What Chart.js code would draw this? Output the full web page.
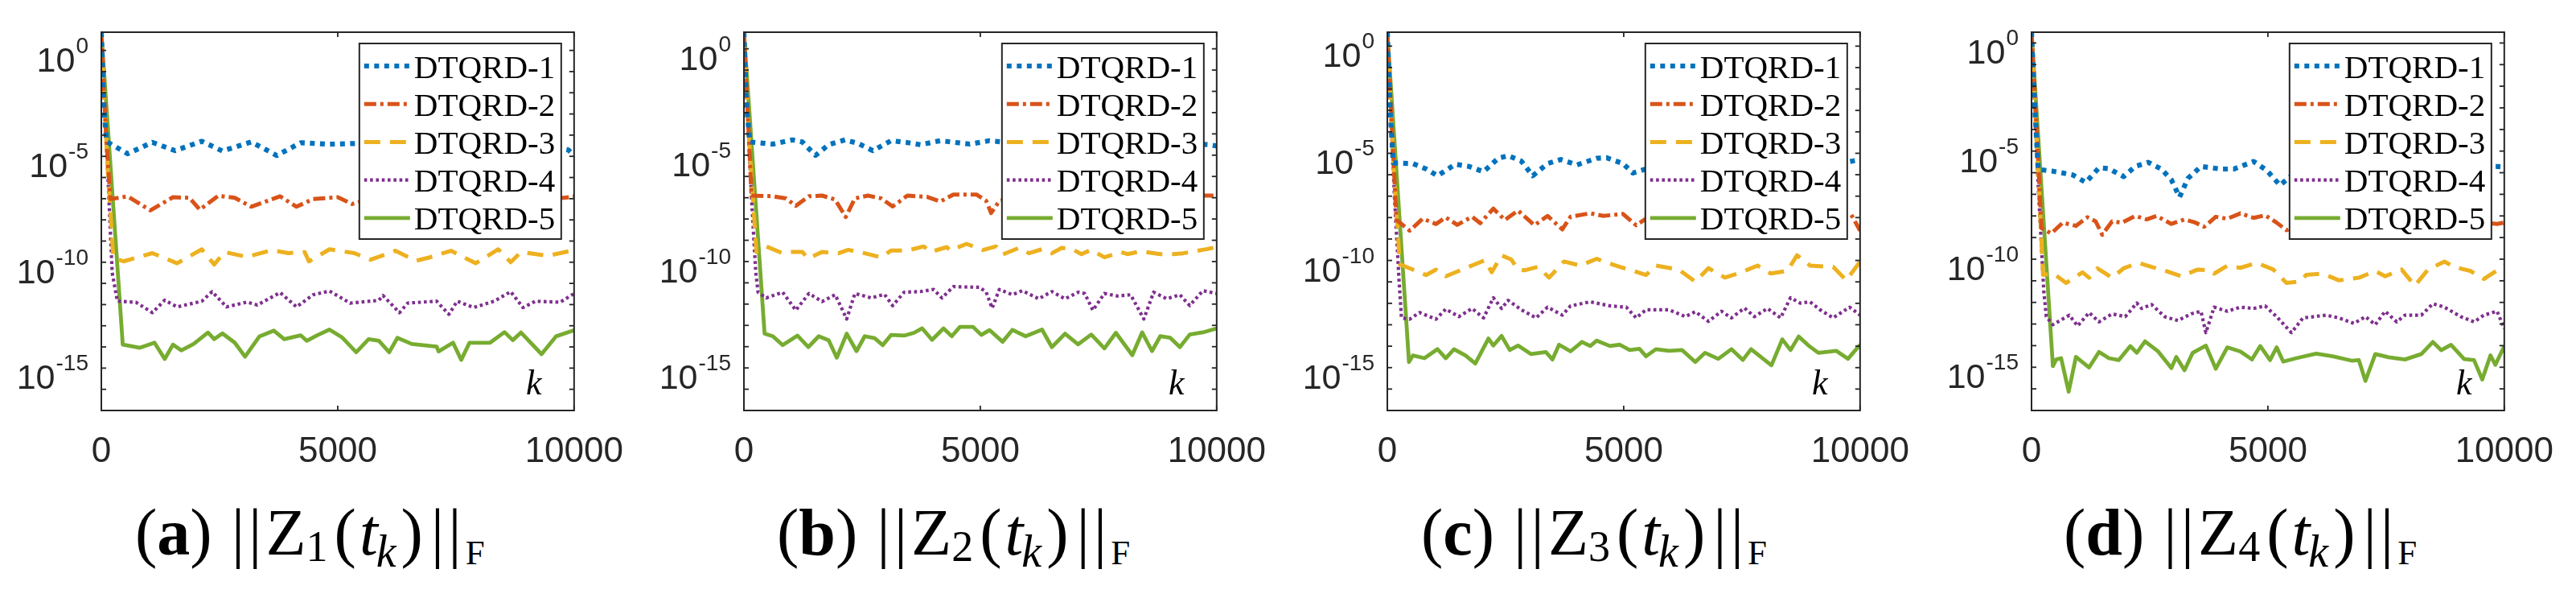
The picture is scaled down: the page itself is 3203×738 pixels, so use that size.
<!DOCTYPE html>
<html>
<head>
<meta charset="utf-8">
<script src="https://cdn.jsdelivr.net/npm/chart.js@4.4.0/dist/chart.umd.min.js"></script>
<style>
  body { margin: 0; width: 3203px; height: 738px; background: #fff; position: relative; overflow: hidden; }
  .panel { position: absolute; top: 0; width: 800px; height: 600px; }
  .cap { position: absolute; top: 621px; font-family: 'Liberation Serif', 'Times New Roman', serif; font-size: 82px; line-height: 82px; white-space: nowrap; color: #000; }
  .cap .bars { margin-left: 24px; letter-spacing: 5px; }
  .cap .bars2 { margin-left: 10px; letter-spacing: 5px; }
  .cap .sn { font-size: 54px; vertical-align: -8px; }
  .cap .sk { font-size: 56px; vertical-align: -15px; font-style: italic; margin-left: -2px; }
  .cap .sf { font-size: 43px; vertical-align: -12px; }
</style>
</head>
<body>
<div class="panel" style="left:0px"><canvas id="cA" width="800" height="600"></canvas></div>
<div class="panel" style="left:799px"><canvas id="cB" width="800" height="600"></canvas></div>
<div class="panel" style="left:1599px"><canvas id="cC" width="800" height="600"></canvas></div>
<div class="panel" style="left:2400px"><canvas id="cD" width="800" height="600"></canvas></div>

<div class="cap" style="left:168px">(<b>a</b>)<span class="bars">||</span>Z<span class="sn">1</span><span style="margin-left:8px">(</span><i style="margin-left:4px">t</i><span class="sk">k</span><span style="margin-left:6px">)</span><span class="bars2">||</span><span class="sf">F</span></div>
<div class="cap" style="left:966px">(<b>b</b>)<span class="bars">||</span>Z<span class="sn">2</span><span style="margin-left:8px">(</span><i style="margin-left:4px">t</i><span class="sk">k</span><span style="margin-left:6px">)</span><span class="bars2">||</span><span class="sf">F</span></div>
<div class="cap" style="left:1767px">(<b>c</b>)<span class="bars">||</span>Z<span class="sn">3</span><span style="margin-left:8px">(</span><i style="margin-left:4px">t</i><span class="sk">k</span><span style="margin-left:6px">)</span><span class="bars2">||</span><span class="sf">F</span></div>
<div class="cap" style="left:2566px">(<b>d</b>)<span class="bars">||</span>Z<span class="sn">4</span><span style="margin-left:8px">(</span><i style="margin-left:4px">t</i><span class="sk">k</span><span style="margin-left:6px">)</span><span class="bars2">||</span><span class="sf">F</span></div>

<script>
// series labels and axis ticks
const seriesLabels = ['DTQRD-1', 'DTQRD-2', 'DTQRD-3', 'DTQRD-4', 'DTQRD-5'];
const xTicks = [0, 5000, 10000];
const yLabelExps = [0, -5, -10, -15];
const yBottomExp = -17;
// top of each panel's y range (log10)
const yTopExp = [0.86, 0.78, 0.65, 0.5];

// values are log10 of the norm, read at iteration k
// panel (a) ||Z1(tk)||F
const kA1 = [0, 50, 110, 557, 1080, 1559, 2126, 2561, 3171, 3711, 4216, 4826, 5436, 6000, 6600, 7200, 7800, 8400, 9000, 9878, 10000];
const logA1 = [0.86, -2.5, -4.3, -4.88, -4.34, -4.73, -4.29, -4.75, -4.32, -4.96, -4.36, -4.43, -4.39, -4.4, -4.7, -4.35, -4.45, -4.8, -4.35, -4.70, -4.96];
const kA2 = [0, 100, 192, 557, 1037, 1516, 1864, 2082, 2474, 2822, 3171, 3781, 4129, 4478, 5000, 5305, 5523, 6000, 6500, 7000, 7600, 8200, 8800, 9400, 9791, 10000];
const logA2 = [0.86, -4.0, -7.02, -6.89, -7.55, -6.93, -6.96, -7.52, -6.86, -6.96, -7.38, -6.89, -7.38, -7.02, -6.93, -7.25, -7.11, -6.9, -7.4, -6.95, -7.3, -6.9, -7.45, -6.95, -6.96, -6.89];
const kA3 = [0, 120, 253, 470, 1080, 1603, 2126, 2387, 2605, 3084, 3606, 3955, 4303, 4390, 4826, 5349, 5697, 6220, 6655, 6916, 7396, 7918, 8397, 8659, 8876, 9443, 10000];
const logA3 = [0.86, -5.0, -9.79, -9.96, -9.57, -10.05, -9.39, -10.11, -9.52, -9.75, -9.43, -9.57, -9.52, -9.96, -9.39, -9.57, -9.88, -9.46, -9.93, -9.79, -9.46, -10.05, -9.39, -10.0, -9.52, -9.70, -9.43];
const kA4 = [0, 150, 230, 340, 732, 1080, 1341, 1603, 2126, 2343, 2648, 3084, 3301, 3781, 4129, 4478, 4826, 5262, 5871, 5958, 6307, 6481, 7091, 7352, 7526, 7875, 8310, 8659, 8920, 9181, 9704, 10000];
const logA4 = [0.86, -6.5, -10.5, -11.84, -11.89, -12.38, -11.79, -12.11, -11.84, -11.39, -12.11, -11.88, -12.02, -11.43, -12.11, -11.54, -11.36, -11.93, -11.80, -11.57, -12.38, -11.93, -11.84, -12.46, -11.84, -12.14, -11.84, -11.39, -12.14, -11.84, -11.89, -11.48];
const kA5 = [0, 453, 819, 1124, 1341, 1516, 1690, 1951, 2256, 2387, 2561, 2822, 3040, 3345, 3650, 3868, 4216, 4347, 4565, 4826, 5087, 5392, 5654, 5871, 6089, 6263, 6568, 7091, 7134, 7439, 7613, 7788, 8223, 8528, 8702, 8876, 9312, 9617, 10000];
const logA5 = [0.86, -13.89, -14.04, -13.80, -14.57, -13.89, -14.16, -13.86, -13.32, -13.63, -13.36, -13.80, -14.46, -13.50, -13.23, -13.63, -13.45, -13.71, -13.45, -13.18, -13.54, -14.25, -13.63, -13.71, -14.25, -13.57, -13.86, -13.98, -14.21, -13.80, -14.61, -13.80, -13.80, -13.30, -13.68, -13.32, -14.34, -13.50, -13.21];

// panel (b) ||Z2(tk)||F
const kB1 = [0, 50, 125, 611, 1028, 1236, 1514, 1792, 2139, 2417, 2729, 3111, 3458, 3736, 4153, 4778, 5194, 5472, 6000, 6700, 7400, 8100, 8800, 9400, 9847, 10000];
const logB1 = [0.78, -2.5, -4.38, -4.48, -4.28, -4.38, -5.01, -4.51, -4.28, -4.45, -4.79, -4.32, -4.41, -4.51, -4.32, -4.48, -4.32, -4.38, -4.5, -4.9, -4.35, -4.5, -4.4, -4.45, -4.51, -4.57];
const kB2 = [0, 90, 160, 611, 889, 1097, 1375, 1653, 1931, 2153, 2347, 2625, 2903, 3146, 3458, 3875, 4153, 4431, 4917, 5125, 5229, 5403, 5900, 6500, 7100, 7700, 8300, 8900, 9500, 10000];
const logB2 = [0.78, -3.5, -6.90, -6.93, -7.03, -7.38, -6.93, -6.90, -7.09, -7.91, -7.03, -6.90, -7.03, -7.41, -6.90, -6.96, -7.18, -6.85, -6.85, -7.15, -7.72, -7.15, -6.9, -7.3, -6.9, -7.5, -6.95, -7.2, -6.9, -6.90];
const kB3 = [0, 130, 264, 472, 819, 1028, 1236, 1361, 1653, 2000, 2208, 2555, 2903, 3111, 3458, 3805, 3944, 4292, 4361, 4708, 5055, 5333, 5472, 5819, 6028, 6306, 6514, 6722, 6930, 7139, 7347, 7625, 7972, 8111, 8389, 8806, 9083, 9291, 9778, 10000];
const logB3 = [0.78, -5.0, -9.55, -9.29, -9.61, -9.55, -9.55, -9.86, -9.55, -9.61, -9.45, -9.61, -9.80, -9.48, -9.48, -9.29, -9.55, -9.32, -9.48, -9.17, -9.46, -9.29, -9.67, -9.36, -9.61, -9.42, -9.61, -9.36, -9.40, -9.65, -9.45, -9.80, -9.55, -9.65, -9.52, -9.65, -9.65, -9.61, -9.42, -9.32];
const kB4 = [0, 160, 250, 299, 472, 819, 1097, 1375, 1653, 1931, 2174, 2347, 2694, 2972, 3146, 3389, 3736, 4014, 4187, 4431, 4986, 5125, 5250, 5403, 5680, 5889, 6236, 6514, 6792, 7069, 7208, 7382, 7625, 7903, 8181, 8458, 8667, 8944, 9222, 9430, 9708, 10000];
const logB4 = [0.78, -7.0, -10.5, -11.44, -11.71, -11.44, -12.29, -11.50, -11.88, -11.56, -12.70, -11.50, -11.71, -11.54, -12.07, -11.44, -11.41, -11.31, -11.71, -11.18, -11.21, -11.44, -12.19, -11.31, -11.56, -11.37, -11.75, -11.41, -11.75, -11.44, -11.50, -12.29, -11.50, -11.62, -11.56, -12.70, -11.44, -11.75, -11.56, -12.07, -11.37, -11.50];
const kB5 = [0, 437, 611, 819, 1132, 1361, 1583, 1792, 1965, 2174, 2382, 2555, 2764, 2937, 3111, 3389, 3597, 3771, 3979, 4222, 4396, 4569, 4847, 5021, 5194, 5472, 5680, 5958, 6306, 6514, 6792, 7069, 7347, 7625, 7868, 8215, 8423, 8632, 8806, 9014, 9222, 9430, 9708, 10000];
const logB5 = [0.78, -13.39, -13.51, -13.93, -13.48, -14.02, -13.51, -13.70, -14.52, -13.39, -14.21, -13.51, -13.60, -13.93, -13.45, -13.48, -13.35, -13.14, -13.68, -13.14, -13.51, -13.07, -13.07, -13.45, -13.22, -13.77, -13.21, -13.51, -13.20, -14.02, -13.39, -13.89, -13.43, -14.08, -13.35, -14.40, -13.33, -14.21, -13.51, -13.58, -14.02, -13.43, -13.33, -13.14];

// panel (c) ||Z3(tk)||F
const kC1 = [0, 60, 125, 542, 819, 1062, 1444, 1722, 2035, 2347, 2555, 2833, 3076, 3389, 3667, 4014, 4431, 4639, 4986, 5194, 5472, 6000, 6600, 7200, 7800, 8400, 9000, 9500, 9847, 10000];
const logC1 = [0.65, -3.0, -5.45, -5.48, -5.73, -6.05, -5.51, -5.61, -5.86, -5.23, -5.11, -5.36, -6.05, -5.48, -5.29, -5.54, -5.23, -5.21, -5.48, -5.92, -5.73, -5.3, -5.9, -5.4, -5.2, -5.8, -5.3, -5.5, -5.36, -5.29];
const kC2 = [0, 100, 194, 472, 750, 1028, 1236, 1479, 1792, 1965, 2243, 2486, 2764, 3111, 3389, 3701, 3875, 4292, 4569, 4986, 5264, 5472, 6000, 6600, 7200, 7800, 8400, 9000, 9500, 9812, 10000];
const logC2 = [0.65, -4.0, -8.11, -8.61, -8.05, -8.30, -7.99, -8.34, -7.96, -8.26, -7.58, -8.11, -7.67, -8.36, -7.92, -8.55, -7.96, -7.80, -7.92, -7.83, -8.36, -8.05, -7.9, -8.4, -7.8, -8.2, -7.9, -8.5, -7.9, -7.86, -8.61];
const kC3 = [0, 130, 264, 542, 819, 1028, 1236, 1653, 1931, 2069, 2208, 2417, 2625, 2764, 2903, 3180, 3423, 3736, 4083, 4431, 4569, 4917, 5125, 5472, 5680, 6166, 6514, 6792, 7139, 7417, 7833, 8111, 8458, 8667, 8944, 9430, 9708, 10000];
const logC3 = [0.65, -5.5, -10.18, -10.43, -10.68, -10.43, -10.74, -10.36, -10.11, -9.99, -10.55, -9.76, -9.96, -10.43, -10.46, -10.30, -10.80, -10.05, -10.24, -9.92, -10.05, -10.30, -10.43, -10.68, -10.24, -10.43, -10.99, -10.36, -10.80, -10.61, -10.24, -10.61, -10.49, -9.76, -10.24, -10.30, -10.93, -10.05];
const kC4 = [0, 150, 250, 299, 472, 681, 1028, 1236, 1514, 1792, 2035, 2243, 2417, 2555, 2833, 3146, 3389, 3701, 3875, 4292, 4708, 5055, 5264, 5472, 5958, 6306, 6514, 6792, 7069, 7278, 7555, 7764, 8042, 8319, 8528, 8736, 8944, 9153, 9430, 9778, 10000];
const logC4 = [0.65, -7.0, -11.0, -12.68, -12.74, -12.43, -12.74, -12.27, -12.62, -12.24, -12.68, -11.74, -12.24, -11.86, -12.30, -12.68, -12.18, -12.55, -12.12, -11.93, -12.12, -12.18, -12.68, -12.30, -12.30, -12.62, -12.39, -12.84, -12.37, -12.68, -12.22, -12.62, -12.24, -12.68, -11.74, -11.99, -11.93, -12.30, -12.68, -12.18, -12.55];
const kC5 = [0, 458, 542, 785, 1062, 1236, 1410, 1653, 1861, 2139, 2243, 2417, 2590, 2764, 3042, 3354, 3493, 3632, 3875, 4118, 4292, 4431, 4708, 4917, 5125, 5333, 5472, 5680, 5958, 6236, 6514, 6722, 7000, 7278, 7521, 7694, 8125, 8354, 8528, 8701, 8910, 9118, 9500, 9743, 10000];
const logC5 = [0.65, -14.74, -14.43, -14.56, -14.14, -14.56, -14.14, -14.43, -14.81, -13.64, -13.97, -13.52, -14.18, -13.97, -14.37, -14.27, -14.62, -13.93, -14.24, -13.80, -13.99, -13.74, -13.99, -13.93, -14.18, -14.12, -14.47, -14.14, -14.22, -14.18, -14.74, -14.31, -14.59, -14.14, -14.64, -14.14, -14.89, -13.68, -14.18, -13.55, -13.97, -14.31, -14.22, -14.59, -13.93];

// panel (d) ||Z4(tk)||F
const kD1 = [0, 70, 140, 452, 870, 1148, 1427, 1635, 1949, 2192, 2470, 2749, 2958, 3132, 3306, 3584, 4001, 4280, 4697, 4976, 5254, 5463, 6000, 6600, 7200, 7800, 8400, 9000, 9500, 9847, 10000];
const logD1 = [0.5, -3.0, -5.85, -5.93, -6.10, -6.45, -5.77, -5.81, -6.18, -5.71, -5.52, -5.83, -6.33, -7.13, -6.27, -5.71, -5.83, -5.83, -5.48, -5.89, -6.58, -6.20, -5.7, -6.3, -5.6, -6.0, -5.7, -6.2, -5.7, -5.71, -5.73];
const kD2 = [0, 110, 209, 418, 661, 939, 1183, 1357, 1496, 1705, 1914, 2192, 2436, 2644, 2958, 3236, 3445, 3653, 3897, 4141, 4419, 4697, 4941, 5185, 5393, 5900, 6500, 7100, 7700, 8300, 8900, 9500, 9847, 10000];
const logD2 = [0.5, -4.0, -8.56, -8.81, -8.31, -8.46, -8.06, -8.25, -8.87, -8.25, -8.31, -8.00, -8.16, -8.00, -8.37, -8.16, -8.29, -8.50, -8.04, -8.13, -7.88, -8.09, -7.97, -8.31, -8.66, -8.2, -8.0, -8.5, -8.1, -8.6, -8.0, -8.3, -8.37, -8.31];
const kD3 = [0, 130, 244, 452, 731, 1079, 1218, 1392, 1705, 1949, 2262, 2540, 2749, 3166, 3514, 3793, 3862, 4141, 4419, 4767, 5115, 5393, 5672, 5811, 6159, 6507, 6924, 7272, 7481, 7829, 8107, 8386, 8734, 8942, 9290, 9569, 10000];
const logD3 = [0.5, -5.5, -10.73, -10.65, -11.10, -10.61, -10.86, -10.42, -10.86, -10.42, -10.17, -10.36, -10.48, -10.79, -10.48, -10.52, -10.67, -10.30, -10.40, -10.17, -10.48, -11.10, -11.04, -10.73, -10.67, -10.98, -10.86, -10.55, -10.79, -10.48, -11.23, -10.48, -10.11, -10.36, -10.55, -10.92, -10.30];
const kD4 = [0, 150, 260, 313, 452, 800, 974, 1218, 1427, 1705, 1983, 2227, 2331, 2540, 2818, 3097, 3375, 3584, 3688, 3862, 4141, 4419, 4697, 4941, 5185, 5498, 5741, 6228, 6507, 6820, 7063, 7272, 7481, 7725, 7898, 8246, 8490, 8734, 9081, 9360, 9569, 9847, 10000];
const logD4 = [0.5, -7.0, -11.5, -12.66, -13.03, -12.59, -13.09, -12.47, -12.90, -12.53, -12.66, -12.03, -12.28, -12.10, -12.66, -12.84, -12.53, -12.41, -13.40, -12.22, -12.41, -12.22, -12.28, -12.16, -12.66, -13.40, -12.72, -12.59, -12.72, -12.97, -12.66, -13.03, -12.41, -12.90, -12.59, -12.59, -12.06, -12.22, -12.66, -12.90, -12.59, -12.41, -13.21];
const kD5 = [0, 452, 522, 626, 786, 939, 1218, 1427, 1635, 1844, 2088, 2227, 2401, 2679, 2958, 3062, 3236, 3410, 3688, 3897, 4141, 4419, 4663, 4837, 5045, 5185, 5324, 5602, 6020, 6368, 6785, 6924, 7063, 7272, 7551, 7898, 8246, 8490, 8664, 8873, 9151, 9360, 9534, 9708, 9812, 10000];
const logD5 = [0.5, -14.95, -14.64, -14.58, -16.13, -14.52, -15.01, -14.29, -14.58, -14.67, -14.02, -14.33, -13.80, -14.27, -15.04, -14.52, -15.14, -14.33, -14.00, -15.07, -14.08, -14.27, -14.64, -14.02, -14.67, -14.08, -14.74, -14.58, -14.37, -14.49, -14.70, -14.67, -15.63, -14.39, -14.54, -14.64, -14.39, -13.83, -14.21, -13.96, -14.62, -14.67, -15.57, -14.45, -14.89, -14.02];

const panels = [
    { id: 'cA', k: [kA1, kA2, kA3, kA4, kA5], v: [logA1, logA2, logA3, logA4, logA5] },
    { id: 'cB', k: [kB1, kB2, kB3, kB4, kB5], v: [logB1, logB2, logB3, logB4, logB5] },
    { id: 'cC', k: [kC1, kC2, kC3, kC4, kC5], v: [logC1, logC2, logC3, logC4, logC5] },
    { id: 'cD', k: [kD1, kD2, kD3, kD4, kD5], v: [logD1, logD2, logD3, logD4, logD5] }
];

// MATLAB default line colours and styles
const lineStyles = [
    { color: '#0072BD', width: 6.2, dash: [6, 6.5] },
    { color: '#D95319', width: 5, dash: [15, 5, 4, 5] },
    { color: '#EDB120', width: 5, dash: [20, 12] },
    { color: '#7E2F8E', width: 4.2, dash: [3.6, 3.7] },
    { color: '#77AC30', width: 4.8, dash: [] }
];

const axisColor = '#262626';
const sansFont = "'Liberation Sans', Arial, Helvetica, sans-serif";
const serifFont = "'Liberation Serif', 'Times New Roman', serif";

function seg(ctx, x1, y1, x2, y2) {
    ctx.beginPath();
    ctx.moveTo(x1, y1);
    ctx.lineTo(x2, y2);
    ctx.stroke();
}

// box, inner ticks, 10^n labels, k label and legend
const decoPlugin = {
    id: 'deco',
    afterDraw(chart) {
        const { ctx, chartArea: a, scales: { x, y } } = chart;
        ctx.save();
        ctx.strokeStyle = axisColor;
        ctx.lineWidth = 2;
        ctx.setLineDash([]);
        ctx.strokeRect(a.left, a.top, a.right - a.left, a.bottom - a.top);

        ctx.lineWidth = 1.8;
        for (let n = yBottomExp; n <= 1; n++) {
            const py = y.getPixelForValue(Math.pow(10, n));
            if (py < a.top + 1 || py > a.bottom - 1) continue;
            seg(ctx, a.left, py, a.left + 6, py);
            seg(ctx, a.right - 6, py, a.right, py);
        }
        xTicks.forEach(v => {
            const px = x.getPixelForValue(v);
            seg(ctx, px, a.bottom, px, a.bottom - 6);
            seg(ctx, px, a.top, px, a.top + 6);
        });

        // y tick labels with superscript exponent
        ctx.fillStyle = axisColor;
        ctx.textBaseline = 'alphabetic';
        yLabelExps.forEach(n => {
            const py = y.getPixelForValue(Math.pow(10, n));
            const right = a.left - 16;
            ctx.font = '28px ' + sansFont;
            const sup = String(n);
            const supW = ctx.measureText(sup).width;
            ctx.textAlign = 'right';
            ctx.fillText(sup, right, py + 3);
            ctx.font = '43px ' + sansFont;
            ctx.fillText('10', right - supW - 1, py + 26);
        });

        // k label
        ctx.font = 'italic 44px ' + serifFont;
        ctx.textAlign = 'center';
        ctx.fillStyle = '#000';
        ctx.fillText('k', a.left + 0.915 * (a.right - a.left), a.bottom - 20);

        // legend box
        const bw = 251, bh = 243;
        const bx = a.right - 16 - bw, by = a.top + 14;
        ctx.fillStyle = '#fff';
        ctx.fillRect(bx, by, bw, bh);
        ctx.strokeStyle = axisColor;
        ctx.lineWidth = 2;
        ctx.strokeRect(bx, by, bw, bh);
        chart.data.datasets.forEach((ds, i) => {
            const cy = by + 28 + i * 47.2;
            ctx.strokeStyle = ds.borderColor;
            ctx.lineWidth = ds.borderWidth;
            ctx.setLineDash(ds.borderDash);
            ctx.lineCap = 'butt';
            seg(ctx, bx + 6, cy, bx + 63, cy);
            ctx.setLineDash([]);
            ctx.fillStyle = '#000';
            ctx.font = '41px ' + serifFont;
            ctx.textAlign = 'left';
            ctx.fillText(ds.label, bx + 68, cy + 14.5);
        });
        ctx.restore();
    }
};

panels.forEach((p, pi) => {
    const datasets = seriesLabels.map((label, i) => ({
        label: label,
        data: p.k[i].map((k, j) => ({ x: k, y: Math.pow(10, p.v[i][j]) })),
        borderColor: lineStyles[i].color,
        borderWidth: lineStyles[i].width,
        borderDash: lineStyles[i].dash,
        borderCapStyle: 'butt',
        borderJoinStyle: 'round',
        pointRadius: 0,
        fill: false,
        tension: 0
    }));
    new Chart(document.getElementById(p.id), {
        type: 'line',
        data: { datasets: datasets },
        options: {
            responsive: false,
            animation: false,
            devicePixelRatio: 1,
            layout: { padding: { left: 126, right: 86, top: 40, bottom: 0 } },
            plugins: { legend: { display: false }, tooltip: { enabled: false } },
            scales: {
                x: {
                    type: 'linear',
                    min: 0,
                    max: 10000,
                    ticks: {
                        stepSize: 5000, autoSkip: false, maxRotation: 0, padding: 25,
                        color: axisColor, font: { family: sansFont, size: 44 },
                        callback: v => String(v)
                    },
                    grid: { display: false, drawTicks: false },
                    border: { display: false },
                    afterFit: scale => { scale.height = 90; }
                },
                y: {
                    type: 'logarithmic',
                    display: false,
                    min: Math.pow(10, yBottomExp),
                    max: Math.pow(10, yTopExp[pi])
                }
            }
        },
        plugins: [decoPlugin]
    });
});
</script>
</body>
</html>
